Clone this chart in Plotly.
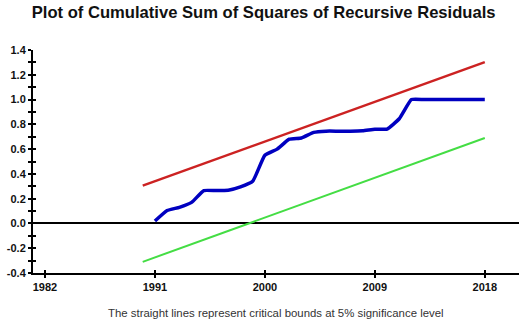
import plotly.graph_objects as go

years = list(range(1991, 2019))
cusumsq = [0.02, 0.105, 0.13, 0.17, 0.265, 0.265, 0.268, 0.295, 0.34, 0.55,
           0.60, 0.68, 0.69, 0.735, 0.745, 0.745, 0.745, 0.748, 0.76, 0.762,
           0.845, 1.0, 1.0, 1.0, 1.0, 1.0, 1.0, 1.0]
bound_years = [1990, 2018]
upper_bound = [0.305, 1.302]
lower_bound = [-0.31, 0.69]
x_ticks = [1982, 1991, 2000, 2009, 2018]
y_ticks = [-0.4, -0.2, 0.0, 0.2, 0.4, 0.6, 0.8, 1.0, 1.2, 1.4]

fig = go.Figure()
fig.add_trace(go.Scatter(x=bound_years, y=upper_bound, mode="lines",
                         line=dict(color="#cc2222", width=2.5), showlegend=False))
fig.add_trace(go.Scatter(x=bound_years, y=lower_bound, mode="lines",
                         line=dict(color="#44dd44", width=2), showlegend=False))
fig.add_trace(go.Scatter(x=years, y=cusumsq, mode="lines", line_shape="spline",
                         line=dict(color="#0000c0", width=3.5, smoothing=0.4), showlegend=False))

xr = [1981.02, 2020.8]
yr = [-0.4, 1.4]
tickfont = dict(family="Liberation Sans, Arial", size=11, color="#111", weight="bold")

fig.update_layout(
    width=519, height=320,
    margin=dict(l=33, r=0, t=50, b=47),
    paper_bgcolor="white", plot_bgcolor="white",
    title=dict(text="<b>Plot of Cumulative Sum of Squares of Recursive Residuals</b>",
               x=0.508, xanchor="center", y=0.962, yanchor="middle",
               font=dict(family="Liberation Sans, Arial", size=16.6, color="#111")),
    xaxis=dict(range=xr, tickvals=x_ticks, ticktext=[str(v) for v in x_ticks],
               showgrid=False, zeroline=False, showline=True, linecolor="black",
               linewidth=2, ticks="outside", ticklen=3, tickwidth=1.5, tickcolor="black",
               tickfont=tickfont),
    xaxis2=dict(range=xr, tickvals=x_ticks, overlaying="x", side="bottom",
                showgrid=False, zeroline=False, showline=False, ticks="inside",
                ticklen=3, tickwidth=1.5, tickcolor="black", showticklabels=False),
    yaxis=dict(range=yr, tickvals=y_ticks, ticktext=["%.1f" % v for v in y_ticks],
               showgrid=False, zeroline=True, zerolinecolor="black", zerolinewidth=2,
               showline=True, linecolor="black", linewidth=2,
               ticks="outside", ticklen=3, tickwidth=1.5, tickcolor="black",
               minor=dict(dtick=0.1, ticks="outside", ticklen=3, tickwidth=1.5, tickcolor="black"),
               tickfont=tickfont),
    yaxis2=dict(range=yr, tickvals=y_ticks, overlaying="y", side="left",
                showgrid=False, zeroline=False, showline=False, ticks="inside",
                ticklen=3, tickwidth=1.5, tickcolor="black", showticklabels=False,
                minor=dict(dtick=0.1, ticks="inside", ticklen=3, tickwidth=1.5, tickcolor="black")),
    annotations=[dict(text="The straight lines represent critical bounds at 5% significance level",
                      xref="paper", yref="paper", x=0.50, y=-0.18, xanchor="center",
                      yanchor="middle", showarrow=False,
                      font=dict(family="Liberation Sans, Arial", size=11.4, color="#333"))],
)
fig.add_trace(go.Scatter(x=[None], y=[None], xaxis="x2", yaxis="y2", showlegend=False))

fig.write_html("out.html")
